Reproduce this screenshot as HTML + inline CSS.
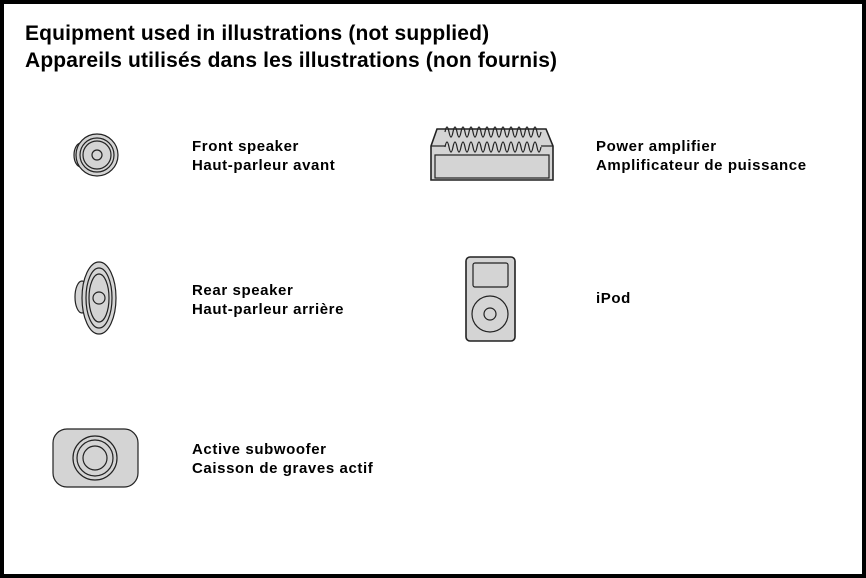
<!DOCTYPE html>
<html><head><meta charset="utf-8"><style>
*{margin:0;padding:0}
body{width:866px;height:578px;position:relative;background:#fff;font-family:"Liberation Sans",Arial,sans-serif;overflow:hidden}
.frame{position:absolute;left:0;top:0;width:858px;height:570px;border:4px solid #000}
.t{position:absolute;left:25px;top:20px;font-size:21px;font-weight:bold;line-height:27px;color:#000;letter-spacing:0.15px}
.l{position:absolute;font-size:15px;font-weight:bold;line-height:19px;color:#000;letter-spacing:0.6px}
svg{position:absolute;left:0;top:0}
</style></head><body>
<div class="frame"></div>
<div class="t">Equipment used in illustrations (not supplied)<br>Appareils utilisés dans les illustrations (non fournis)</div>
<div class="l" style="left:192px;top:137px">Front speaker<br>Haut-parleur avant</div>
<div class="l" style="left:192px;top:281px">Rear speaker<br>Haut-parleur arrière</div>
<div class="l" style="left:192px;top:440px">Active subwoofer<br>Caisson de graves actif</div>
<div class="l" style="left:596px;top:137px">Power amplifier<br>Amplificateur de puissance</div>
<div class="l" style="left:596px;top:289px">iPod</div>
<svg width="866" height="578" stroke="#222" fill="#d4d4d4" stroke-width="1.2">
<ellipse cx="81" cy="155" rx="7" ry="12"/>
<circle cx="97" cy="155" r="21"/>
<circle cx="97" cy="155" r="17"/>
<circle cx="97" cy="155" r="14"/>
<circle cx="97" cy="155" r="5"/>
<ellipse cx="82" cy="297" rx="7" ry="16"/>
<ellipse cx="99" cy="298" rx="17" ry="36"/>
<ellipse cx="99" cy="298" rx="13" ry="30"/>
<ellipse cx="99" cy="298" rx="10" ry="24"/>
<circle cx="99" cy="298" r="6"/>
<rect x="53" y="429" width="85" height="58" rx="14"/>
<circle cx="95" cy="458" r="22" fill="none"/>
<circle cx="95" cy="458" r="18" fill="none"/>
<circle cx="95" cy="458" r="12" fill="none"/>
<path d="M431 180 L431 146 L437 129 L546 129 L553 146 L553 180 Z" stroke-width="1.6"/>
<path d="M445 132 q2 -10 4 0 q2 10 4 0 q2 -10 4 0 q2 10 4 0 q2 -10 4 0 q2 10 4 0 q2 -10 4 0 q2 10 4 0 q2 -10 4 0 q2 10 4 0 q2 -10 4 0 q2 10 4 0 q2 -10 4 0 q2 10 4 0 q2 -10 4 0 q2 10 4 0 q2 -10 4 0 q2 10 4 0 q2 -10 4 0 q2 10 4 0 q2 -10 4 0 q2 10 4 0 q2 -10 4 0 q2 10 4 0" fill="none"/>
<path d="M445 147 q2 -10 4 0 q2 10 4 0 q2 -10 4 0 q2 10 4 0 q2 -10 4 0 q2 10 4 0 q2 -10 4 0 q2 10 4 0 q2 -10 4 0 q2 10 4 0 q2 -10 4 0 q2 10 4 0 q2 -10 4 0 q2 10 4 0 q2 -10 4 0 q2 10 4 0 q2 -10 4 0 q2 10 4 0 q2 -10 4 0 q2 10 4 0 q2 -10 4 0 q2 10 4 0 q2 -10 4 0 q2 10 4 0" fill="none"/>
<line x1="431" y1="146" x2="445" y2="146"/><line x1="541" y1="146" x2="553" y2="146"/>
<rect x="435" y="155" width="114" height="23"/>
<rect x="466" y="257" width="49" height="84" rx="4" stroke-width="1.6"/>
<rect x="473" y="263" width="35" height="24" rx="2"/>
<circle cx="490" cy="314" r="18"/>
<circle cx="490" cy="314" r="6"/>
</svg>
</body></html>
